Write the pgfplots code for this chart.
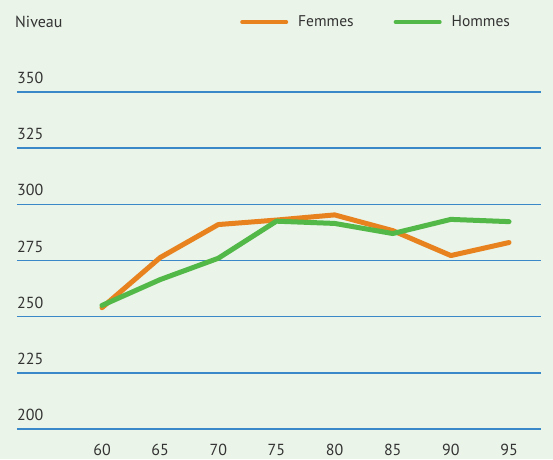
\documentclass[border=0pt]{standalone}
\usepackage{pgfplots}
\pgfplotsset{compat=1.18}
\usepackage{fontspec}
\setmainfont{PT Sans}
\definecolor{bgc}{HTML}{EAF4E8}
\definecolor{gridc}{HTML}{3A88C8}
\definecolor{fem}{HTML}{E8821E}
\definecolor{hom}{HTML}{52B848}
\definecolor{txt}{HTML}{333333}
\begin{document}
\begin{tikzpicture}[x=1pt,y=1pt]
\fill[bgc] (0,0) rectangle (553,459);
\useasboundingbox (0,0) rectangle (553,459);
\begin{axis}[
  at={(17pt,30pt)}, anchor=south west,
  scale only axis, width=524pt, height=337pt,
  xmin=52.69, xmax=97.75, ymin=200, ymax=350,
  clip=false,
  axis line style={draw=none},
  tick style={draw=none},
  xtick={60,65,70,75,80,85,90,95},
  ytick={200,225,250,275,300,325,350},
  ymajorgrids, grid style={gridc, line width=1.4pt},
  font=\fontsize{16}{19}\selectfont\color{txt},
  /pgf/number format/assume math mode=true,
  yticklabel style={anchor=south west, inner sep=0pt, yshift=8pt, xshift=0pt},
  xticklabel style={anchor=north, inner sep=0pt, yshift=-15pt},
  ylabel={Niveau},
  ylabel style={rotate=-90, at={(axis description cs:0,1.2077)}, anchor=west, inner sep=0pt, xshift=-2pt},
  legend columns=2,
  legend style={at={(axis description cs:0.4256,1.2077)}, anchor=west, draw=none, fill=none, inner sep=0pt,
    /tikz/every odd column/.append style={column sep=8pt},
    /tikz/every even column/.append style={column sep=38pt},
    font=\fontsize{15.5}{19}\selectfont\color{txt}},
  legend image code/.code={\draw[line width=4pt, line cap=round] (0pt,0pt) -- (44pt,0pt);},
]
\addplot[fem, line width=5pt, line join=round, line cap=round] coordinates {
 (60,254) (65,276.3) (70,291) (75,293) (80,295.3) (85,288.3) (90,277.2) (95,283)};
\addlegendentry{Femmes}
\addplot[hom, line width=5pt, line join=round, line cap=round] coordinates {
 (60,255) (65,266.5) (70,276) (75,292.5) (80,291.5) (85,287) (90,293.3) (95,292.3)};
\addlegendentry{Hommes}
\end{axis}
\end{tikzpicture}
\end{document}
